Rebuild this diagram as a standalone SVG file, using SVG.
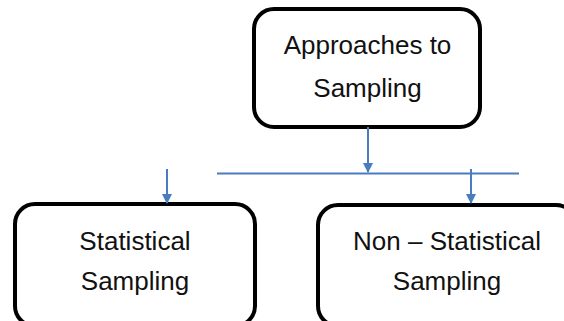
<svg xmlns="http://www.w3.org/2000/svg" width="564" height="321" viewBox="0 0 564 321">
<style>
.box{fill:#fff;stroke:#000;stroke-width:4}
.lbl{font-family:"Liberation Sans",Arial,sans-serif;font-size:26px;fill:#111;text-anchor:middle}
.con{stroke:#4A7CC0;stroke-width:2;fill:none}
</style>
<defs>
<marker id="ah" markerWidth="10" markerHeight="10" refX="9" refY="5" orient="auto" markerUnits="userSpaceOnUse">
<path d="M0,0 L10,5 L0,10 Z" fill="#4A7CC0"/>
</marker>
</defs>
<rect width="564" height="321" fill="#fff"/>
<g id="approaches">
<rect class="box" x="254" y="9" width="226" height="118" rx="20"/>
<text class="lbl" x="367.5" y="54">Approaches to</text>
<text class="lbl" x="367.5" y="97">Sampling</text>
</g>
<g id="statistical">
<rect class="box" x="15" y="204" width="240" height="122" rx="20"/>
<text class="lbl" x="135" y="250">Statistical</text>
<text class="lbl" x="135" y="290">Sampling</text>
</g>
<g id="nonstatistical">
<rect class="box" x="318" y="205" width="258" height="121" rx="20"/>
<text class="lbl" x="447" y="250">Non – Statistical</text>
<text class="lbl" x="447" y="290">Sampling</text>
</g>
<g id="connectors">
<line class="con" x1="368" y1="127" x2="368" y2="172" marker-end="url(#ah)"/>
<line class="con" x1="217" y1="173.5" x2="519" y2="173.5"/>
<line class="con" x1="167" y1="169" x2="167" y2="203" marker-end="url(#ah)"/>
<line class="con" x1="471" y1="169" x2="471" y2="203" marker-end="url(#ah)"/>
</g>
</svg>
